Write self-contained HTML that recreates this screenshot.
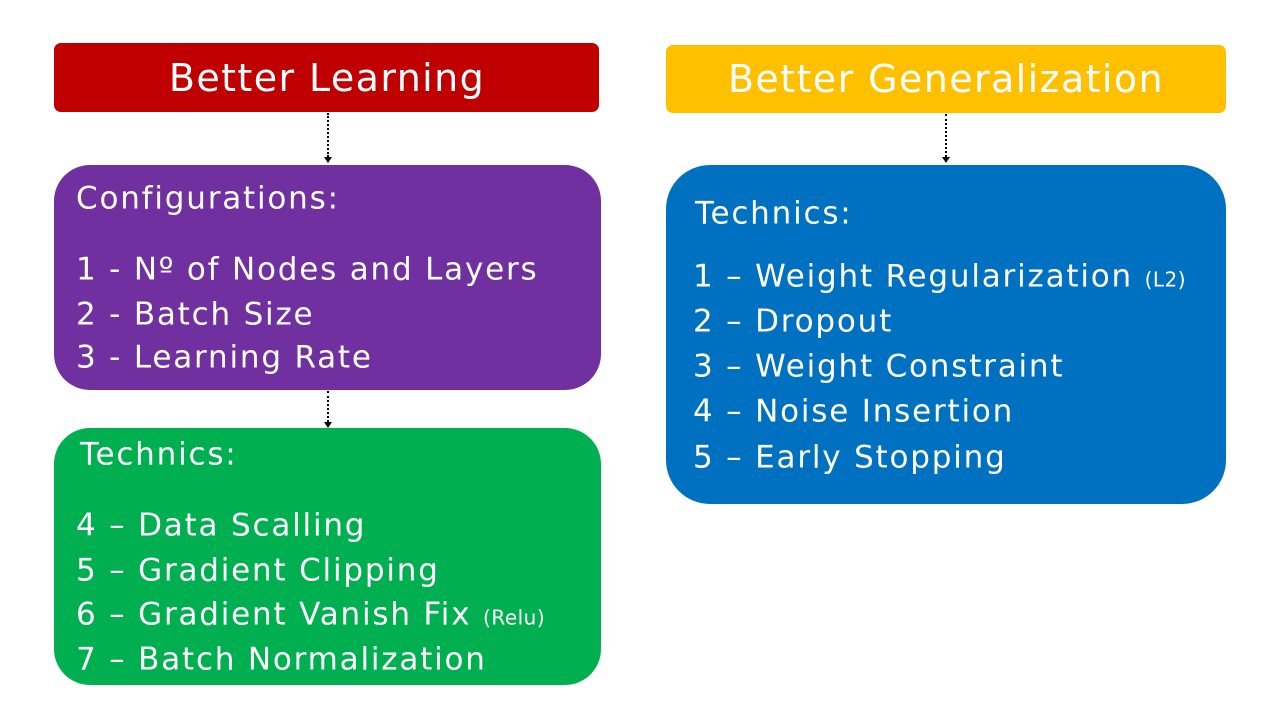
<!DOCTYPE html>
<html><head><meta charset="utf-8"><style>
body{margin:0;width:1280px;height:720px;background:#fff;position:relative;overflow:hidden;font-family:"DejaVu Sans","Liberation Sans",sans-serif;color:#fff}
.b{position:absolute}
.t{position:absolute;white-space:nowrap;font-size:31px;line-height:1;transform:translateY(-50%);letter-spacing:1.8px}
.h{position:absolute;white-space:nowrap;font-size:38px;line-height:1;transform:translate(-50%,-50%);letter-spacing:1.4px}
small{font-size:20px;letter-spacing:0.5px}
.ar{position:absolute;width:0;border-left:2px dotted #000}
.ah{position:absolute;width:0;height:0;border-left:4px solid transparent;border-right:4px solid transparent;border-top:6px solid #000}
</style></head><body>
<div class="b" style="left:54px;top:43px;width:545px;height:69px;background:#C00000;border-radius:7px"></div>
<div class="h" style="left:327px;top:78px">Better Learning</div>
<div class="b" style="left:666px;top:45px;width:560px;height:68px;background:#FFC000;border-radius:7px"></div>
<div class="h" style="left:946px;top:79px">Better Generalization</div>

<div class="ar" style="left:327px;top:113px;height:44px"></div><div class="ah" style="left:324px;top:157px"></div>
<div class="ar" style="left:327px;top:391px;height:31px"></div><div class="ah" style="left:324px;top:422px"></div>
<div class="ar" style="left:945px;top:114px;height:43px"></div><div class="ah" style="left:942px;top:157px"></div>

<div class="b" style="left:54px;top:165px;width:547px;height:225px;background:#7030A0;border-radius:36px"></div>
<div class="t" style="left:76px;top:199px">Configurations:</div>
<div class="t" style="left:76px;top:270px">1 - Nº of Nodes and Layers</div>
<div class="t" style="left:76px;top:315px">2 - Batch Size</div>
<div class="t" style="left:76px;top:358px">3 - Learning Rate</div>

<div class="b" style="left:54px;top:428px;width:547px;height:257px;background:#00B050;border-radius:36px"></div>
<div class="t" style="left:80px;top:455px">Technics:</div>
<div class="t" style="left:76px;top:526px">4 – Data Scalling</div>
<div class="t" style="left:76px;top:571px">5 – Gradient Clipping</div>
<div class="t" style="left:76px;top:615px">6 – Gradient Vanish Fix <small>(Relu)</small></div>
<div class="t" style="left:76px;top:660px">7 – Batch Normalization</div>

<div class="b" style="left:666px;top:165px;width:560px;height:339px;background:#0070C0;border-radius:44px"></div>
<div class="t" style="left:695px;top:214px">Technics:</div>
<div class="t" style="left:693px;top:277px">1 – Weight Regularization <small>(L2)</small></div>
<div class="t" style="left:693px;top:322px">2 – Dropout</div>
<div class="t" style="left:693px;top:367px">3 – Weight Constraint</div>
<div class="t" style="left:693px;top:412px">4 – Noise Insertion</div>
<div class="t" style="left:693px;top:458px">5 – Early Stopping</div>
</body></html>
